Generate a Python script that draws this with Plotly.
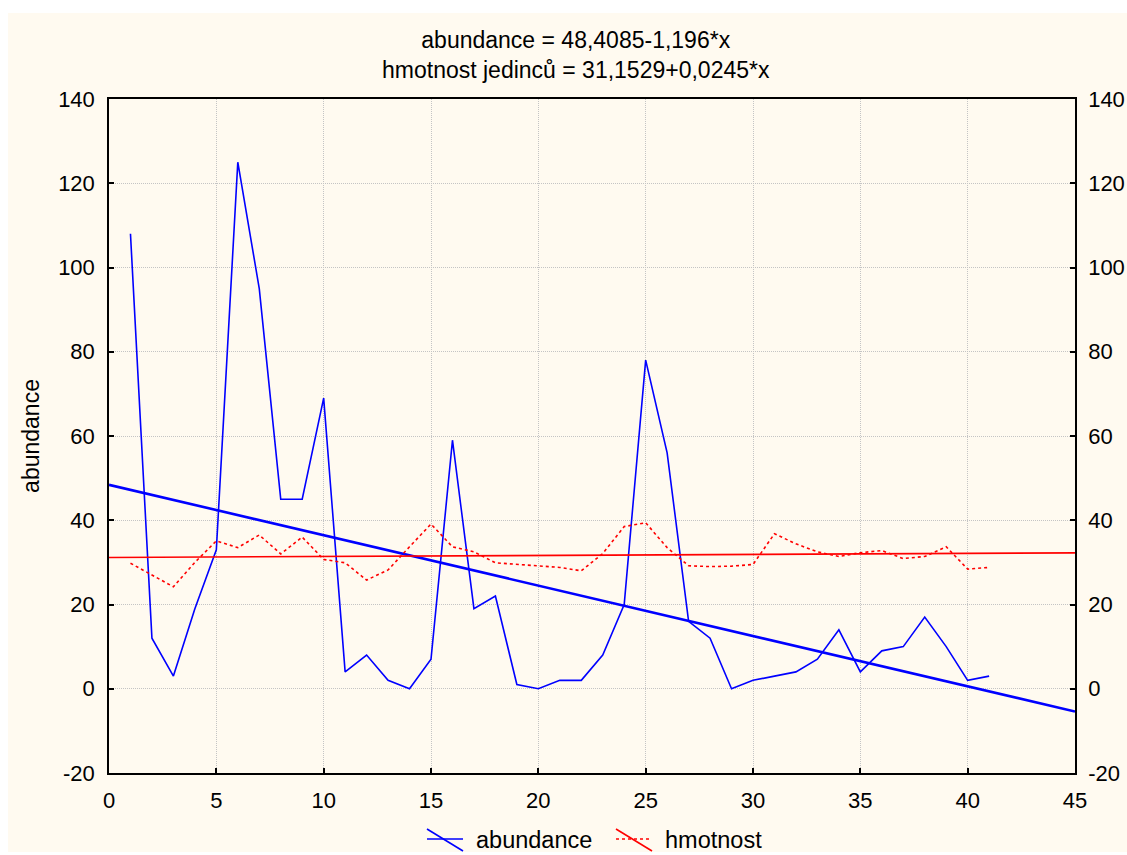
import plotly.graph_objects as go

x_vals = list(range(1, 42))
abundance = [108, 12, 3, 19, 33, 125, 95, 45, 45, 69, 4, 8, 2, 0, 7, 59, 19, 22, 1, 0,
             2, 2, 8, 20, 78, 56, 16, 12, 0, 2, 3, 4, 7, 14, 4, 9, 10, 17, 10, 2, 3]
hmotnost = [29.8, 27, 24.2, 30, 35.1, 33.5, 36.5, 32, 36, 30.7, 29.9, 25.8, 28.2, 33.7, 39.1,
            33.7, 32.5, 29.9, 29.5, 29.2, 28.8, 28.0, 32.1, 38.5, 39.4, 33.5, 29.2, 29, 29.1, 29.5,
            36.8, 34.4, 32.5, 31.4, 32.3, 32.8, 30.9, 31.4, 33.7, 28.4, 28.8]
fit_x = [0, 45]
ab_a, ab_b = 48.4085, -1.196
hm_a, hm_b = 31.1529, 0.0245
y_ticks = [-20, 0, 20, 40, 60, 80, 100, 120, 140]
y_ticktext = ["-20", "0", "20", "40", "60", "80", "100", "120", "140"]
x_ticks = [0, 5, 10, 15, 20, 25, 30, 35, 40, 45]
title_text = "abundance = 48,4085-1,196*x<br>hmotnost jedinců = 31,1529+0,0245*x"
legend_names = ["abundance", "hmotnost"]

# pixel geometry of plot area
L, R, T, B = 109, 1075, 99, 773
W, H = R - L, B - T


def px(x):
    return (x - L) / W


def py(y):
    return (B - y) / H


fig = go.Figure()
fig.add_trace(go.Scatter(x=x_vals, y=abundance, mode="lines", name=legend_names[0],
                         showlegend=False, line=dict(color="#0000FF", width=1.6)))
fig.add_trace(go.Scatter(x=x_vals, y=hmotnost, mode="lines", name=legend_names[1], yaxis="y2",
                         showlegend=False, line=dict(color="#FF0000", width=1.6, dash="dot")))
fig.add_trace(go.Scatter(x=fit_x, y=[ab_a + ab_b * v for v in fit_x], mode="lines",
                         showlegend=False, line=dict(color="#0000FF", width=2.6)))
fig.add_trace(go.Scatter(x=fit_x, y=[hm_a + hm_b * v for v in fit_x], mode="lines", yaxis="y2",
                         showlegend=False, line=dict(color="#FF0000", width=1.6)))

font = "Liberation Sans, Arial, sans-serif"
fs = 22
axis_common = dict(showline=True, linecolor="black", linewidth=1.5, mirror=True,
                   ticks="inside", ticklen=5, tickwidth=1.5, tickcolor="black",
                   showgrid=True, gridcolor="#C4C4C4", griddash="1px,1px", gridwidth=1,
                   zeroline=False, automargin=False,
                   tickfont=dict(size=fs, color="black", family=font))

shapes = [dict(type="rect", xref="paper", yref="paper",
               x0=px(8), x1=px(1127), y0=py(852), y1=py(13),
               fillcolor="#FFFAF0", line=dict(width=0), layer="below")]
# manual legend symbols
shapes += [
    dict(type="line", xref="paper", yref="paper", x0=px(427), x1=px(463), y0=py(839), y1=py(839),
         line=dict(color="#0000FF", width=1.6)),
    dict(type="line", xref="paper", yref="paper", x0=px(427), x1=px(463), y0=py(829), y1=py(851),
         line=dict(color="#0000FF", width=1.6)),
    dict(type="line", xref="paper", yref="paper", x0=px(616), x1=px(652), y0=py(839), y1=py(839),
         line=dict(color="#FF0000", width=1.6, dash="dot")),
    dict(type="line", xref="paper", yref="paper", x0=px(616), x1=px(652), y0=py(829), y1=py(851),
         line=dict(color="#FF0000", width=1.6)),
]
annotations = [
    dict(text=title_text, xref="paper", yref="paper", x=px(576), y=py(55),
         xanchor="center", yanchor="middle", showarrow=False,
         font=dict(size=23, family=font, color="black")),
    dict(text=legend_names[0], xref="paper", yref="paper", x=px(474), y=py(840),
         xanchor="left", yanchor="middle", showarrow=False,
         font=dict(size=23.5, family=font, color="black")),
    dict(text=legend_names[1], xref="paper", yref="paper", x=px(663), y=py(840),
         xanchor="left", yanchor="middle", showarrow=False,
         font=dict(size=23.5, family=font, color="black")),
]

fig.update_layout(
    width=1127, height=855,
    paper_bgcolor="white", plot_bgcolor="white",
    margin=dict(l=L, r=1127 - R, t=T, b=855 - B),
    font=dict(family=font, color="black"),
    showlegend=False,
    xaxis=dict(range=[0, 45], tickvals=x_ticks, ticklabelstandoff=7, **axis_common),
    yaxis=dict(range=[-20, 140], tickvals=y_ticks, ticktext=y_ticktext, ticklabelstandoff=8,
               title=dict(text="abundance", font=dict(size=23, family=font), standoff=12),
               **axis_common),
    yaxis2=dict(range=[-20, 140], tickvals=y_ticks, ticktext=y_ticktext,
                overlaying="y", side="right", ticklabelstandoff=7, automargin=False,
                showline=True, linecolor="black", linewidth=1.5,
                ticks="inside", ticklen=5, tickwidth=1.5, tickcolor="black",
                showgrid=False, zeroline=False,
                tickfont=dict(size=fs, color="black", family=font)),
    shapes=shapes,
    annotations=annotations,
)

fig.write_html("out.html")
